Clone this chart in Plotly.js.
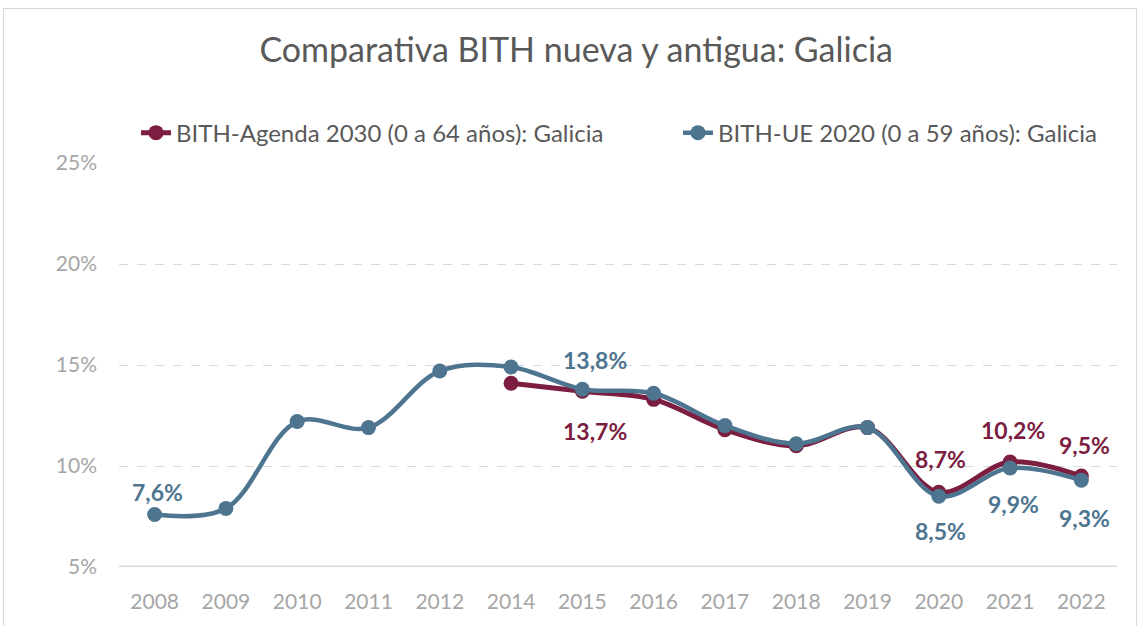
<!DOCTYPE html>
<html>
<head>
<meta charset="utf-8">
<script src="https://cdn.plot.ly/plotly-3.0.1.min.js"></script>
<style>
html,body{margin:0;padding:0;background:#fff;}
#wrap{position:relative;width:1141px;height:626px;}
#chart{width:1141px;height:626px;}
#frame{position:absolute;left:3px;top:8px;width:1132px;height:640px;border:1px solid #d9d9d9;pointer-events:none;}
</style>
</head>
<body>
<div id="wrap"><div id="chart"></div><div id="frame"></div></div>
<script>
const years = ['2008','2009','2010','2011','2012','2014','2015','2016','2017','2018','2019','2020','2021','2022'];
const agenda2030 = [null,null,null,null,null,14.1,13.7,13.3,11.8,11.0,11.9,8.7,10.2,9.5];
const ue2020 = [7.6,7.9,12.2,11.9,14.7,14.9,13.8,13.6,12.0,11.1,11.9,8.5,9.9,9.3];
const yTicks = [5,10,15,20,25];
const nameAgenda = 'BITH-Agenda 2030 (0 a 64 años): Galicia';
const nameUE = 'BITH-UE 2020 (0 a 59 años): Galicia';
// data labels shown in the reference
const agendaLabels = ['2015','2020','2021','2022'];
const ueLabels = ['2008','2015','2020','2021','2022'];

const RED = '#7b1e41', BLUE = '#4e7590';
const fmt = v => v.toFixed(1).replace('.', ',') + '%';
// label offsets (px) above (+) or below (-) the point
const agendaShift = {'2015': [13, -40], '2020': [2, 33], '2021': [3, 32], '2022': [3, 31]};
const ueShift = {'2008': [3, 22], '2015': [13, 29], '2020': [2, -35], '2021': [3, -36], '2022': [3, -38]};

const traces = [
  {x: years, y: agenda2030, name: nameAgenda, type: 'scatter', mode: 'lines+markers', legend: 'legend',
   line: {color: RED, width: 5, shape: 'spline', smoothing: 1}, marker: {color: RED, size: 15},
   connectgaps: false},
  {x: years, y: ue2020, name: nameUE, type: 'scatter', mode: 'lines+markers', legend: 'legend2',
   line: {color: BLUE, width: 4.5, shape: 'spline', smoothing: 1}, marker: {color: BLUE, size: 15}}
];

const labelFont = c => ({family: 'Lato, sans-serif', size: 23, color: c, weight: 'bold'});
const annotations = [];
agendaLabels.forEach(yr => {
  const i = years.indexOf(yr), v = agenda2030[i];
  annotations.push({x: i, y: v, xref: 'x', yref: 'y', text: fmt(v), showarrow: false,
    xshift: agendaShift[yr][0], yshift: agendaShift[yr][1], font: labelFont(RED)});
});
ueLabels.forEach(yr => {
  const i = years.indexOf(yr), v = ue2020[i];
  annotations.push({x: i, y: v, xref: 'x', yref: 'y', text: fmt(v), showarrow: false,
    xshift: ueShift[yr][0], yshift: ueShift[yr][1], font: labelFont(BLUE)});
});

const tickFont = {family: 'Lato, sans-serif', size: 21, color: '#a6a6a6'};
const legendFont = {family: 'Lato, sans-serif', size: 24, color: '#595959'};
const layout = {
  width: 1141, height: 626,
  margin: {l: 119, r: 24, t: 163, b: 59, autoexpand: false},
  paper_bgcolor: '#fff', plot_bgcolor: '#fff',
  font: {family: 'Lato, sans-serif', color: '#595959'},
  title: {text: 'Comparativa BITH nueva y antigua: Galicia', x: 0.505, xanchor: 'center', xref: 'container',
    y: 0.92, yanchor: 'middle', font: {family: 'Lato, sans-serif', size: 34, color: '#595959'}},
  showlegend: true,
  legend: {orientation: 'h', x: 136 / 1141, xref: 'container', xanchor: 'left', y: 0.7875, yref: 'container',
    yanchor: 'middle', font: legendFont, bgcolor: 'rgba(0,0,0,0)'},
  legend2: {orientation: 'h', x: 678 / 1141, xref: 'container', xanchor: 'left', y: 0.7875, yref: 'container',
    yanchor: 'middle', font: legendFont, bgcolor: 'rgba(0,0,0,0)'},
  xaxis: {type: 'category', range: [-0.5, 13.5], autorange: false, showgrid: false, zeroline: false, showline: false,
    ticks: '', tickfont: tickFont, ticklabelstandoff: 20, fixedrange: true},
  yaxis: {range: [5, 25], autorange: false, tickvals: yTicks, ticktext: yTicks.map(t => t + '%'), showgrid: true,
    gridcolor: '#d9d9d9', griddash: 'dash', gridwidth: 1, zeroline: false, showline: false, ticks: '',
    tickfont: tickFont, ticklabelstandoff: 21, fixedrange: true},
  shapes: [{type: 'line', xref: 'paper', yref: 'y', x0: 0, x1: 1, y0: 5, y1: 5,
    line: {color: '#d9d9d9', width: 3}, layer: 'below'}],
  annotations: annotations
};
Plotly.newPlot('chart', traces, layout, {displayModeBar: false, staticPlot: true});
</script>
</body>
</html>
